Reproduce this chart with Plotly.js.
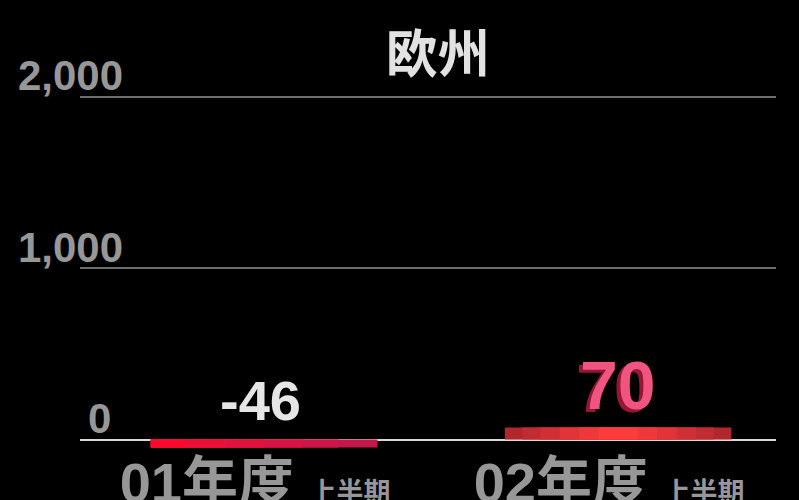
<!DOCTYPE html>
<html><head><meta charset="utf-8">
<script src="https://cdn.plot.ly/plotly-3.0.1.min.js"></script>
<style>html,body{margin:0;padding:0;background:#000;}</style>
</head><body>
<div id="chart" style="width:799px;height:500px;"></div>
<script>
const categories = ["01年度", "02年度"];
const periodLabels = ["上半期", "上半期"];
const values = [-46, 70];
const yTicks = [0, 1000, 2000];
const yTickLabels = ["0", "1,000", "2,000"];
const chartTitle = "欧州";

const FONT = "Liberation Sans, Arial, Noto Sans CJK JP, sans-serif";
const xs = [0, 1];
const tickText = categories.map((c, i) => c + " <span style='font-size:27px'>" + periodLabels[i] + "</span>");

// layered bars to imitate gradient fills
// bar 1: bright red on left fading to crimson on right; bar 2: bright in centre, darker edges
const layers = [
  {w:[0.64, 0.64], o:[-0.32, -0.32], c:['#c4184c', '#b0282e']},
  {w:[0.53, 0.54], o:[-0.32, -0.27], c:['#ce1648', '#c02c31']},
  {w:[0.43, 0.44], o:[-0.32, -0.22], c:['#d81444', '#d03034']},
  {w:[0.32, 0.33], o:[-0.32, -0.165], c:['#e2123e', '#e03437']},
  {w:[0.21, 0.22], o:[-0.32, -0.11], c:['#ee0e36', '#ee383a']},
  {w:[0.10, 0.11], o:[-0.32, -0.055], c:['#fa0a2c', '#fc3c3c']}
];
const traces = layers.map(L => ({
  type:'bar', x: xs, y: values, width: L.w, offset: L.o,
  marker:{color: L.c, line:{width:0}}, hoverinfo:'skip'
}));

const annotations = [];
values.forEach((v, i) => {
  const txt = String(v);
  if (v >= 0) {
    annotations.push({x: xs[i], y: v, xref:'x', yref:'y', text: txt, showarrow:false,
      yanchor:'bottom', xanchor:'center', xshift:-4, yshift:0,
      font:{family:FONT, size:68, color:'#961634', weight:'bold'}});
    annotations.push({x: xs[i], y: v, xref:'x', yref:'y', text: txt, showarrow:false,
      yanchor:'bottom', xanchor:'center', xshift:0, yshift:3,
      font:{family:FONT, size:68, color:'#f05582', weight:'bold'}});
  } else {
    annotations.push({x: xs[i], y: 0, xref:'x', yref:'y', text: txt, showarrow:false,
      yanchor:'bottom', xanchor:'center', xshift:-4, yshift:6,
      font:{family:FONT, size:56, color:'#e6e6e6', weight:'bold'}});
  }
});

const layout = {
  width: 799, height: 500,
  paper_bgcolor:'#000', plot_bgcolor:'#000',
  margin:{l:80, r:23, t:88, b:45},
  barmode:'overlay',
  showlegend:false,
  title:{text: chartTitle, x:0.548, xanchor:'center', y:0.89, yanchor:'middle',
    font:{family:FONT, size:52, color:'#e2e2e2', weight:'bold'}},
  xaxis:{range:[-0.52, 1.446], tickvals: xs, ticktext: tickText, showgrid:false,
    zeroline:false, showline:false, ticks:'', ticklabelstandoff:-10, ticklabelshift:-9,
    tickfont:{family:FONT, size:56, color:'#979797', weight:'bold'}},
  yaxis:{range:[-90, 2050], tickvals: yTicks,
    ticktext: yTickLabels.map(t => t === "0" ? t + "\u00a0" : t),
    showgrid:true, gridcolor:'#6e6e6e', gridwidth:2,
    zeroline:true, zerolinecolor:'#d8d8d8', zerolinewidth:2,
    showline:false, ticks:'', ticklabelstandoff:-44, ticklabelshift:-21,
    tickfont:{family:FONT, size:42, color:'#979797', weight:'bold'}},
  annotations: annotations
};
Plotly.newPlot('chart', traces, layout, {displayModeBar:false, staticPlot:true});
</script>
</body></html>
